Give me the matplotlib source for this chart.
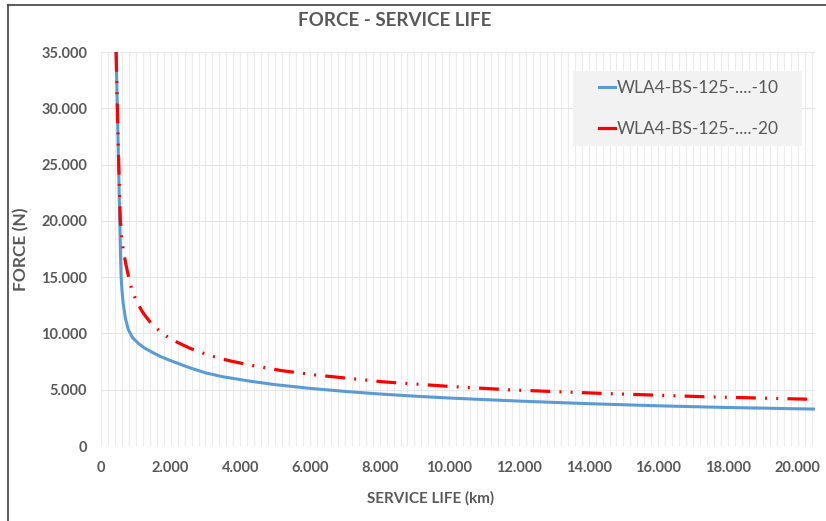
import matplotlib
matplotlib.use("Agg")
import matplotlib.pyplot as plt
from matplotlib.ticker import FuncFormatter, MultipleLocator
from matplotlib.lines import Line2D
from matplotlib.patches import Rectangle

plt.rcParams['font.family'] = ['Lato', 'DejaVu Sans']

# valeurs
life_10 = [434, 470, 505, 538, 560, 575, 592, 612, 640, 700, 783, 900, 1070, 1250, 1455, 1700,
           2029, 2500, 3000, 3500, 4275, 5000, 6000, 7000, 8000, 9000, 10000, 12000, 14000,
           16000, 18000, 20000, 20500]
force_10 = [35000, 30000, 25000, 20000, 17000, 15300, 14300, 13500, 12600, 11350, 10350, 9650, 9120,
            8700, 8350, 7960, 7550, 7000, 6500, 6150, 5760, 5450, 5120, 4850, 4620, 4430, 4260,
            3990, 3760, 3570, 3420, 3305, 3280]

life_20 = [434, 470, 510, 555, 595, 640, 717, 783, 881, 1024, 1214, 1400, 1598, 1800, 2029, 2554,
           3079, 3653, 4275, 5200, 6190, 8100, 10014, 11736, 14319, 17188, 20393, 20500]
force_20 = [35000, 30000, 25000, 20000, 18500, 17400, 16100, 15150, 13950, 12800, 11800, 11050,
            10450, 9920, 9450, 8680, 8080, 7600, 7190, 6690, 6300, 5700, 5290, 4990, 4680, 4390,
            4150, 4140]

labels = ['WLA4-BS-125-....-10', 'WLA4-BS-125-....-20']

grey = '#595959'
blue = '#5B9BD5'
red = '#FF0000'

fig = plt.figure(figsize=(8.26, 5.21), dpi=100)
ax = fig.add_axes([101 / 826, 75 / 521, 714 / 826, 394 / 521])

ax.plot(life_10, force_10, color=blue, lw=2.2, solid_joinstyle='round')
ax.plot(life_20, force_20, color=red, lw=2.3, linestyle=(0, (6.2, 2.9, 0.6, 2.9, 0.6, 2.9)))

ax.set_xlim(0, 20500)
ax.set_ylim(0, 35000)
ax.xaxis.set_major_locator(MultipleLocator(2000))
ax.xaxis.set_minor_locator(MultipleLocator(200))
ax.yaxis.set_major_locator(MultipleLocator(5000))

fmt = FuncFormatter(lambda v, p: f"{int(v):,}".replace(',', '.'))
ax.xaxis.set_major_formatter(fmt)
ax.yaxis.set_major_formatter(fmt)

ax.grid(True, which='both', axis='x', color='#EBEBEB', lw=0.8)
ax.grid(True, which='major', axis='y', color='#E6E6E6', lw=0.8)
ax.set_axisbelow(True)
for s in ax.spines.values():
    s.set_visible(False)
ax.tick_params(which='both', length=0, colors=grey, labelsize=10.5)
for t in ax.get_xticklabels() + ax.get_yticklabels():
    t.set_fontweight('bold')
ax.tick_params(axis='x', pad=11)
ax.tick_params(axis='y', pad=10)

ax.set_xlabel('SERVICE LIFE (km)', fontsize=11, fontweight='bold', color=grey)
ax.set_ylabel('FORCE (N)', fontsize=12.5, fontweight='bold', color=grey)
ax.xaxis.set_label_coords(0.462, -0.114)
ax.yaxis.set_label_coords(-0.1, 0.5)
fig.text(395 / 826, 1 - 20 / 521, 'FORCE - SERVICE LIFE', ha='center', va='center',
         fontsize=13.5, fontweight='bold', color=grey)

# fond gris de la légende
ax.add_patch(Rectangle((0.661, 0.761), 0.321, 0.191, transform=ax.transAxes,
                       facecolor='#F2F2F2', edgecolor='none', zorder=3))
handles = [Line2D([], [], color=blue, lw=2.2), Line2D([], [], color=red, lw=2.3)]
leg = ax.legend(handles, labels, loc='center', bbox_to_anchor=(0.823, 0.857),
                frameon=False, fontsize=12.5, labelcolor=grey,
                handlelength=0.9, handletextpad=0.1, borderpad=0, labelspacing=1.45)
leg.set_zorder(4)

# bordure du cadre (haut et gauche)
fig.add_artist(Line2D([8 / 826, 8 / 826], [0, 1 - 5 / 521], color='#404040', lw=1.2))
fig.add_artist(Line2D([8 / 826, 1], [1 - 5 / 521, 1 - 5 / 521], color='#404040', lw=1.2))

fig.savefig('out.png', dpi=100)
